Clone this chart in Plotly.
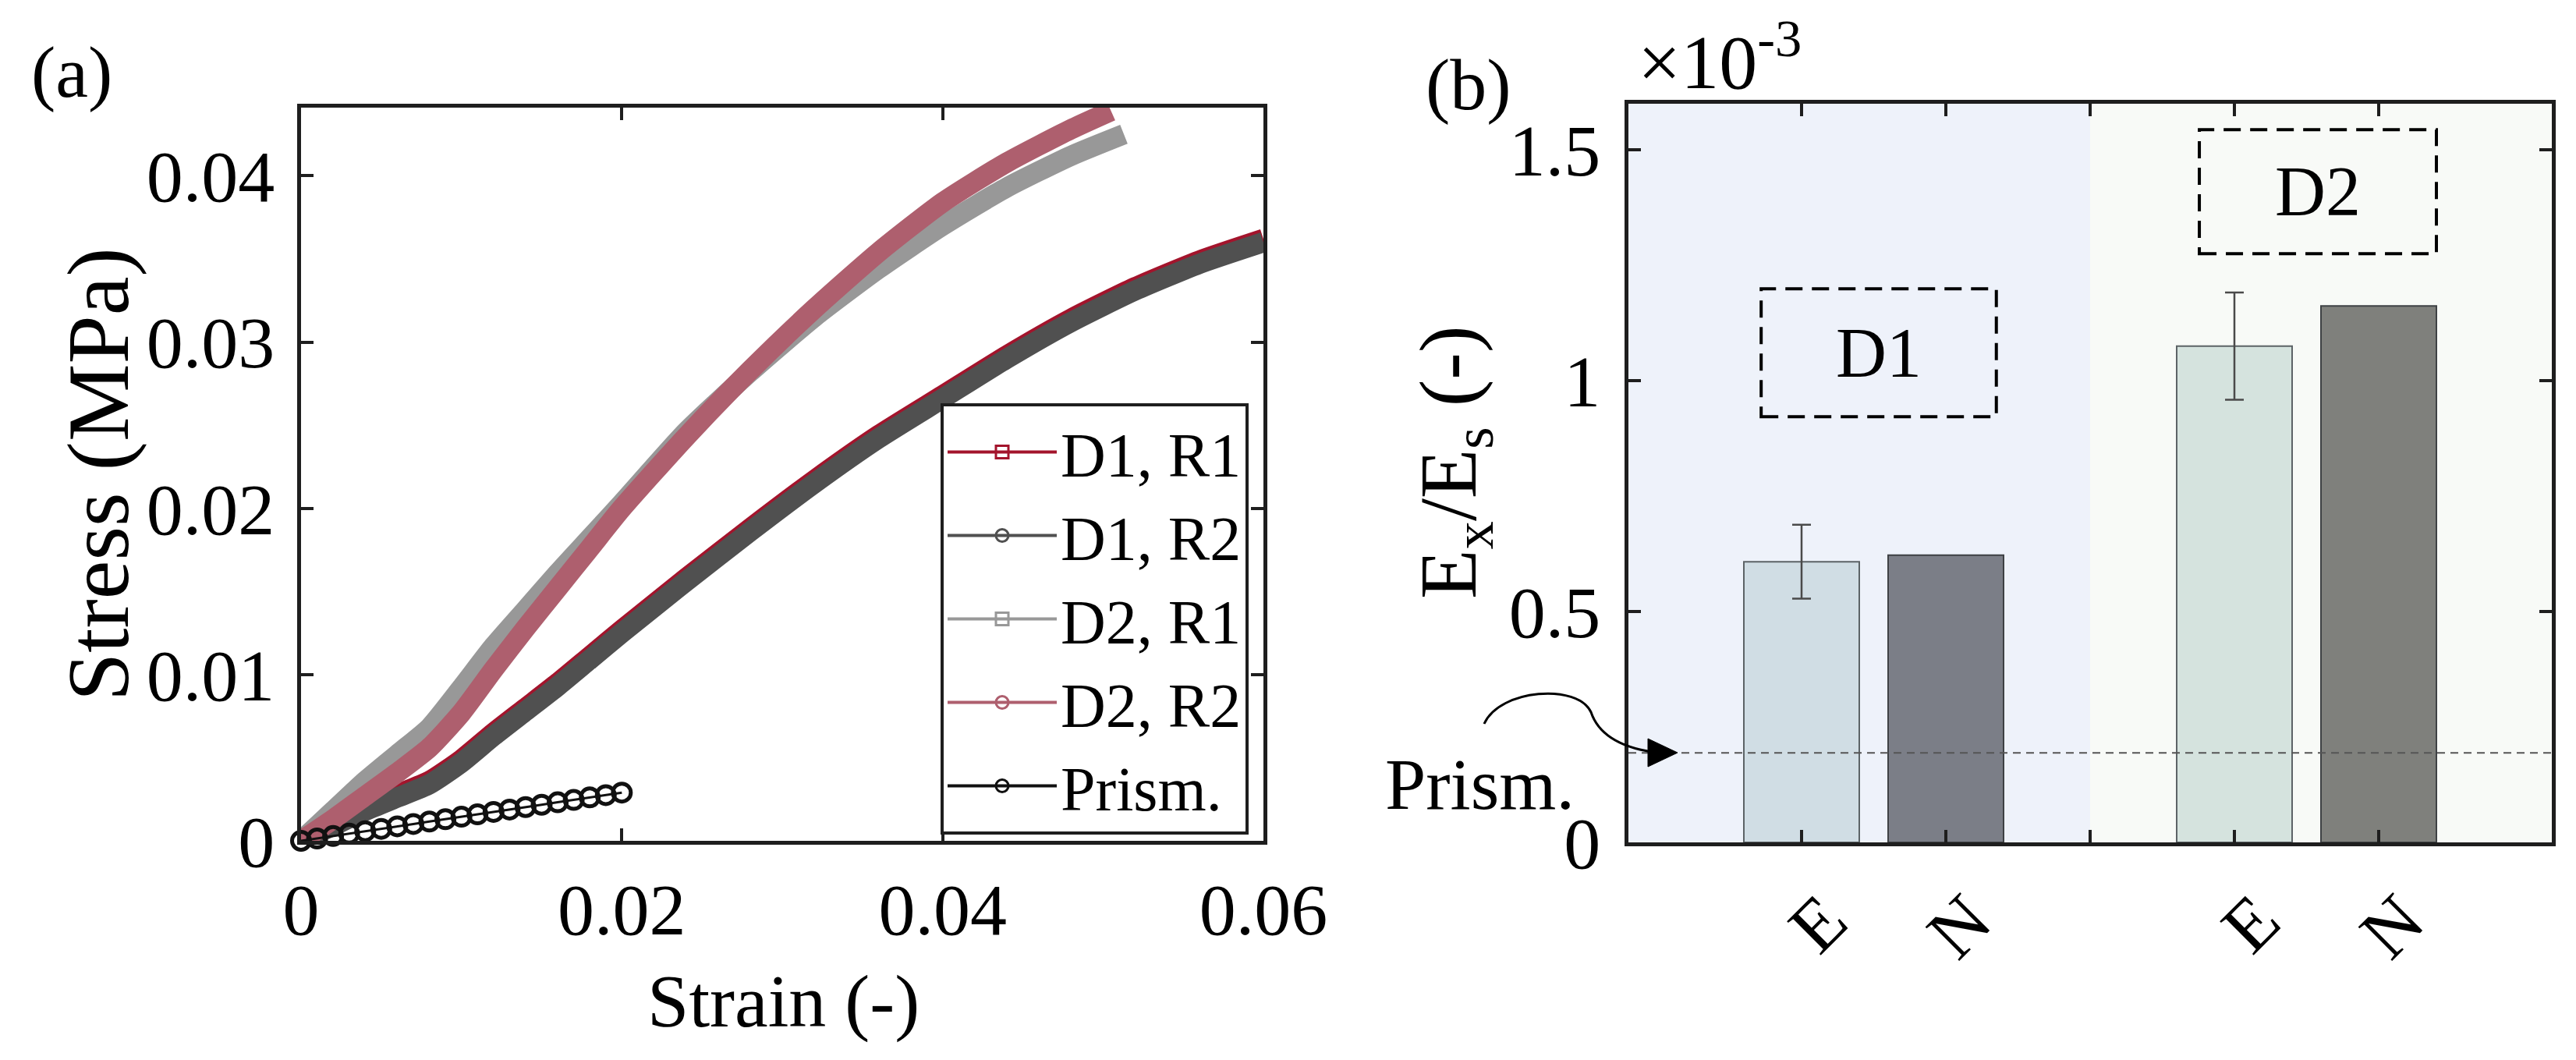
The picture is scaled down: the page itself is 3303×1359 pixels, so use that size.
import plotly.graph_objects as go

# ---------------- panel (a): stress-strain data ----------------
strain_d1 = [0, 0.002, 0.004, 0.006, 0.008, 0.010, 0.012, 0.014, 0.016, 0.018, 0.020,
             0.024, 0.028, 0.032, 0.036, 0.040, 0.044, 0.048, 0.052, 0.056, 0.060]
stress_d1_r1 = [0, 0.0011, 0.0020, 0.0028, 0.0036, 0.0049, 0.0065, 0.0080, 0.0095, 0.0111, 0.0127,
                0.0158, 0.0188, 0.0217, 0.0244, 0.0268, 0.0292, 0.0314, 0.0333, 0.0349, 0.0362]
stress_d1_r2 = [0, 0.0009, 0.0018, 0.0026, 0.0034, 0.0047, 0.0063, 0.0078, 0.0093, 0.0109, 0.0125,
                0.0156, 0.0186, 0.0215, 0.0242, 0.0266, 0.0290, 0.0312, 0.0331, 0.0347, 0.0360]

strain_d2_r1 = [0, 0.002, 0.004, 0.006, 0.008, 0.010, 0.012, 0.014, 0.016, 0.018, 0.020,
                0.024, 0.028, 0.032, 0.036, 0.040, 0.044, 0.048, 0.0513]
stress_d2_r1 = [0, 0.0018, 0.0036, 0.0052, 0.0068, 0.0092, 0.0117, 0.0139, 0.0161, 0.0182, 0.0203,
                0.0246, 0.0282, 0.0315, 0.0344, 0.0370, 0.0393, 0.0412, 0.0425]

strain_d2_r2 = [0, 0.002, 0.004, 0.006, 0.008, 0.010, 0.012, 0.014, 0.016, 0.018, 0.020,
                0.024, 0.028, 0.032, 0.036, 0.040, 0.044, 0.048, 0.0505]
stress_d2_r2 = [0, 0.0013, 0.0027, 0.0041, 0.0056, 0.0077, 0.0103, 0.0128, 0.0152, 0.0176, 0.0200,
                0.0243, 0.0283, 0.0320, 0.0354, 0.0384, 0.0408, 0.0428, 0.0439]

strain_prism = [0, 0.001, 0.002, 0.003, 0.004, 0.005, 0.006, 0.007, 0.008, 0.009, 0.010,
                0.011, 0.012, 0.013, 0.014, 0.015, 0.016, 0.017, 0.018, 0.019, 0.020]
stress_prism = [0, 0.00014, 0.00029, 0.00043, 0.00058, 0.00072, 0.00087, 0.00101, 0.00116, 0.00130, 0.00145,
                0.00159, 0.00174, 0.00188, 0.00203, 0.00217, 0.00232, 0.00246, 0.00261, 0.00275, 0.00290]

a_xticks = [0, 0.02, 0.04, 0.06]
a_xticktext = ["0", "0.02", "0.04", "0.06"]
a_yticks = [0, 0.01, 0.02, 0.03, 0.04]
a_yticktext = ["0", "0.01", "0.02", "0.03", "0.04"]

# ---------------- panel (b): normalised modulus (x 10^-3) ----------------
pos_E = [1, 4]
pos_N = [2, 5]
ratio_E = [0.608, 1.075]
ratio_E_err = [0.080, 0.116]
ratio_N = [0.622, 1.162]
prism_ratio = 0.194
b_xticks = [1, 2, 4, 5]
b_xticktext = ["E", "N", "E", "N"]
b_group_split = [3]
b_yticks = [0, 0.5, 1, 1.5]
b_yticktext = ["0", "0.5", "1", "1.5"]
group_labels = ["D1", "D2"]

# ---------------- styling ----------------
FONT = "Liberation Serif, Times New Roman, serif"
W, H = 3303, 1359
AXC = "#1e1e1e"


def px(x, y):
    return x / W, 1 - y / H


fig = go.Figure()

# panel (a) traces (data)
line_specs = [
    ("D1, R1", strain_d1, stress_d1_r1, "#A3142C", "square-open"),
    ("D1, R2", strain_d1, stress_d1_r2, "#505050", "circle-open"),
    ("D2, R1", strain_d2_r1, stress_d2_r1, "#989898", "square-open"),
    ("D2, R2", strain_d2_r2, stress_d2_r2, "#AE5F6E", "circle-open"),
]
for name, xs, ys, col, sym in line_specs:
    fig.add_trace(go.Scatter(x=xs, y=ys, mode="lines", name=name, showlegend=False,
                             line=dict(color=col, width=26, shape="spline", smoothing=0.6),
                             xaxis="x", yaxis="y"))
fig.add_trace(go.Scatter(x=strain_prism, y=stress_prism, mode="lines+markers", name="Prism.",
                         showlegend=False, cliponaxis=False,
                         line=dict(color="#111111", width=3),
                         marker=dict(symbol="circle-open", size=23, color="#111111",
                                     line=dict(width=5, color="#111111")),
                         xaxis="x", yaxis="y"))

# legend entries
for name, xs, ys, col, sym in line_specs + [("Prism.", None, None, "#111111", "circle-open")]:
    fig.add_trace(go.Scatter(x=[None], y=[None], mode="lines+markers", name=name,
                             line=dict(color=col, width=4),
                             marker=dict(symbol=sym, size=16, color=col, line=dict(width=3, color=col)),
                             xaxis="x", yaxis="y"))

# panel (b) bars
fig.add_trace(go.Bar(x=pos_E, y=ratio_E, width=0.8, showlegend=False, name="E",
                     marker=dict(color=["#D0DDE4", "#D5E3DE"], line=dict(color="#5C6366", width=2)),
                     error_y=dict(type="data", array=ratio_E_err, color="#4A4A4A", thickness=2.5, width=12),
                     xaxis="x2", yaxis="y2"))
fig.add_trace(go.Bar(x=pos_N, y=ratio_N, width=0.8, showlegend=False, name="N",
                     marker=dict(color=["#7B7E87", "#7F807C"], line=dict(color="#3E4144", width=2)),
                     xaxis="x2", yaxis="y2"))

axis_common = dict(showline=True, linewidth=5, linecolor=AXC, mirror="ticks", ticks="inside",
                   ticklen=16, tickwidth=4, tickcolor=AXC, showgrid=False, zeroline=False,
                   automargin=False, tickfont=dict(family=FONT, size=94, color="black"))

fig.update_layout(
    width=W, height=H, margin=dict(l=0, r=0, t=0, b=0, pad=0), autosize=False,
    paper_bgcolor="white", plot_bgcolor="rgba(0,0,0,0)",
    barmode="overlay",
    font=dict(family=FONT, color="black"),
    xaxis=dict(domain=[378 / W, 1612 / W], range=[0, 0.06], tickvals=a_xticks, ticktext=a_xticktext,
               ticklabelstandoff=2, anchor="y", **axis_common),
    yaxis=dict(domain=[1 - 1070 / H, 1 - 130 / H], range=[0, 0.0441], tickvals=a_yticks,
               ticktext=a_yticktext, ticklabelstandoff=10, anchor="x", **axis_common),
    xaxis2=dict(domain=[2080 / W, 3264 / W], range=[-0.2, 6.2], tickvals=b_xticks, ticktext=b_xticktext,
                tickangle=-45, ticklabelstandoff=2, ticklabelshift=30, anchor="y2",
                minor=dict(tickvals=b_group_split, ticks="inside", ticklen=16, tickwidth=4, tickcolor=AXC,
                           showgrid=False),
                **axis_common),
    yaxis2=dict(domain=[1 - 1072 / H, 1 - 125 / H], range=[0, 1.6], tickvals=b_yticks,
                ticktext=b_yticktext, ticklabelstandoff=12, anchor="x2", **axis_common),
    legend=dict(x=1593 / W, y=1 - 1062 / H, xanchor="right", yanchor="bottom",
                bgcolor="white", bordercolor=AXC, borderwidth=4,
                font=dict(family=FONT, size=80, color="black"), itemwidth=140, tracegroupgap=0),
)

# panel (b) backgrounds, reference line and group boxes
shapes = [
    dict(type="rect", xref="x2", yref="y2 domain", x0=-0.2, x1=3, y0=0, y1=1,
         fillcolor="#EEF2FA", line=dict(width=0), layer="below"),
    dict(type="rect", xref="x2", yref="y2 domain", x0=3, x1=6.2, y0=0, y1=1,
         fillcolor="#F8FAF7", line=dict(width=0), layer="below"),
    dict(type="line", xref="x2 domain", yref="y2", x0=0, x1=1, y0=prism_ratio, y1=prism_ratio,
         line=dict(color="#555555", width=2, dash="10px,7px"), layer="above"),
    dict(type="rect", xref="x2", yref="y2", x0=0.72, x1=2.35, y0=0.922, y1=1.199,
         line=dict(color="black", width=4, dash="22px,12px"), fillcolor="rgba(0,0,0,0)"),
    dict(type="rect", xref="x2", yref="y2", x0=3.757, x1=5.40, y0=1.275, y1=1.544,
         line=dict(color="black", width=4, dash="22px,12px"), fillcolor="rgba(0,0,0,0)"),
]
# curved arrow pointing at the prismatic reference line
p = [px(1895, 920), px(1915, 875), px(2015, 868), px(2032, 905), px(2042, 935), px(2072, 950), px(2110, 956)]
curve = "M {0[0]},{0[1]} C {1[0]},{1[1]} {2[0]},{2[1]} {3[0]},{3[1]} C {4[0]},{4[1]} {5[0]},{5[1]} {6[0]},{6[1]}".format(*p)
shapes.append(dict(type="path", xref="paper", yref="paper", path=curve, line=dict(color="black", width=3)))
t = [px(2105, 939), px(2143, 957), px(2105, 975)]
tri = "M {0[0]},{0[1]} L {1[0]},{1[1]} L {2[0]},{2[1]} Z".format(*t)
shapes.append(dict(type="path", xref="paper", yref="paper", path=tri, fillcolor="black", line=dict(color="black", width=1)))
fig.update_layout(shapes=shapes)

ann = []


def text(s, x, y, size=94, xanchor="center", yanchor="middle", angle=0, xref="paper", yref="paper"):
    ann.append(dict(text=s, x=x, y=y, xref=xref, yref=yref, xanchor=xanchor, yanchor=yanchor,
                    showarrow=False, textangle=angle, font=dict(family=FONT, size=size, color="black")))


text("(a)", *px(84, 84))
text("(b)", *px(1875, 100))
text("×10<sup>-3</sup>", *px(2090, 128), size=98, xanchor="left", yanchor="bottom")
text("Prism.", *px(1766, 997), xanchor="left")
text(group_labels[0], 1.535, 1.06, size=90, xref="x2", yref="y2")
text(group_labels[1], 4.58, 1.41, size=90, xref="x2", yref="y2")
text("Stress (MPa)", *px(118, 600), size=112, angle=-90)
text("Strain (-)", *px(996, 1275), size=96)
text("E<sub>x</sub>/E<sub>s</sub> (-)", *px(1856, 585), size=104, angle=-90)
fig.update_layout(annotations=ann)

fig.write_html("out.html")
